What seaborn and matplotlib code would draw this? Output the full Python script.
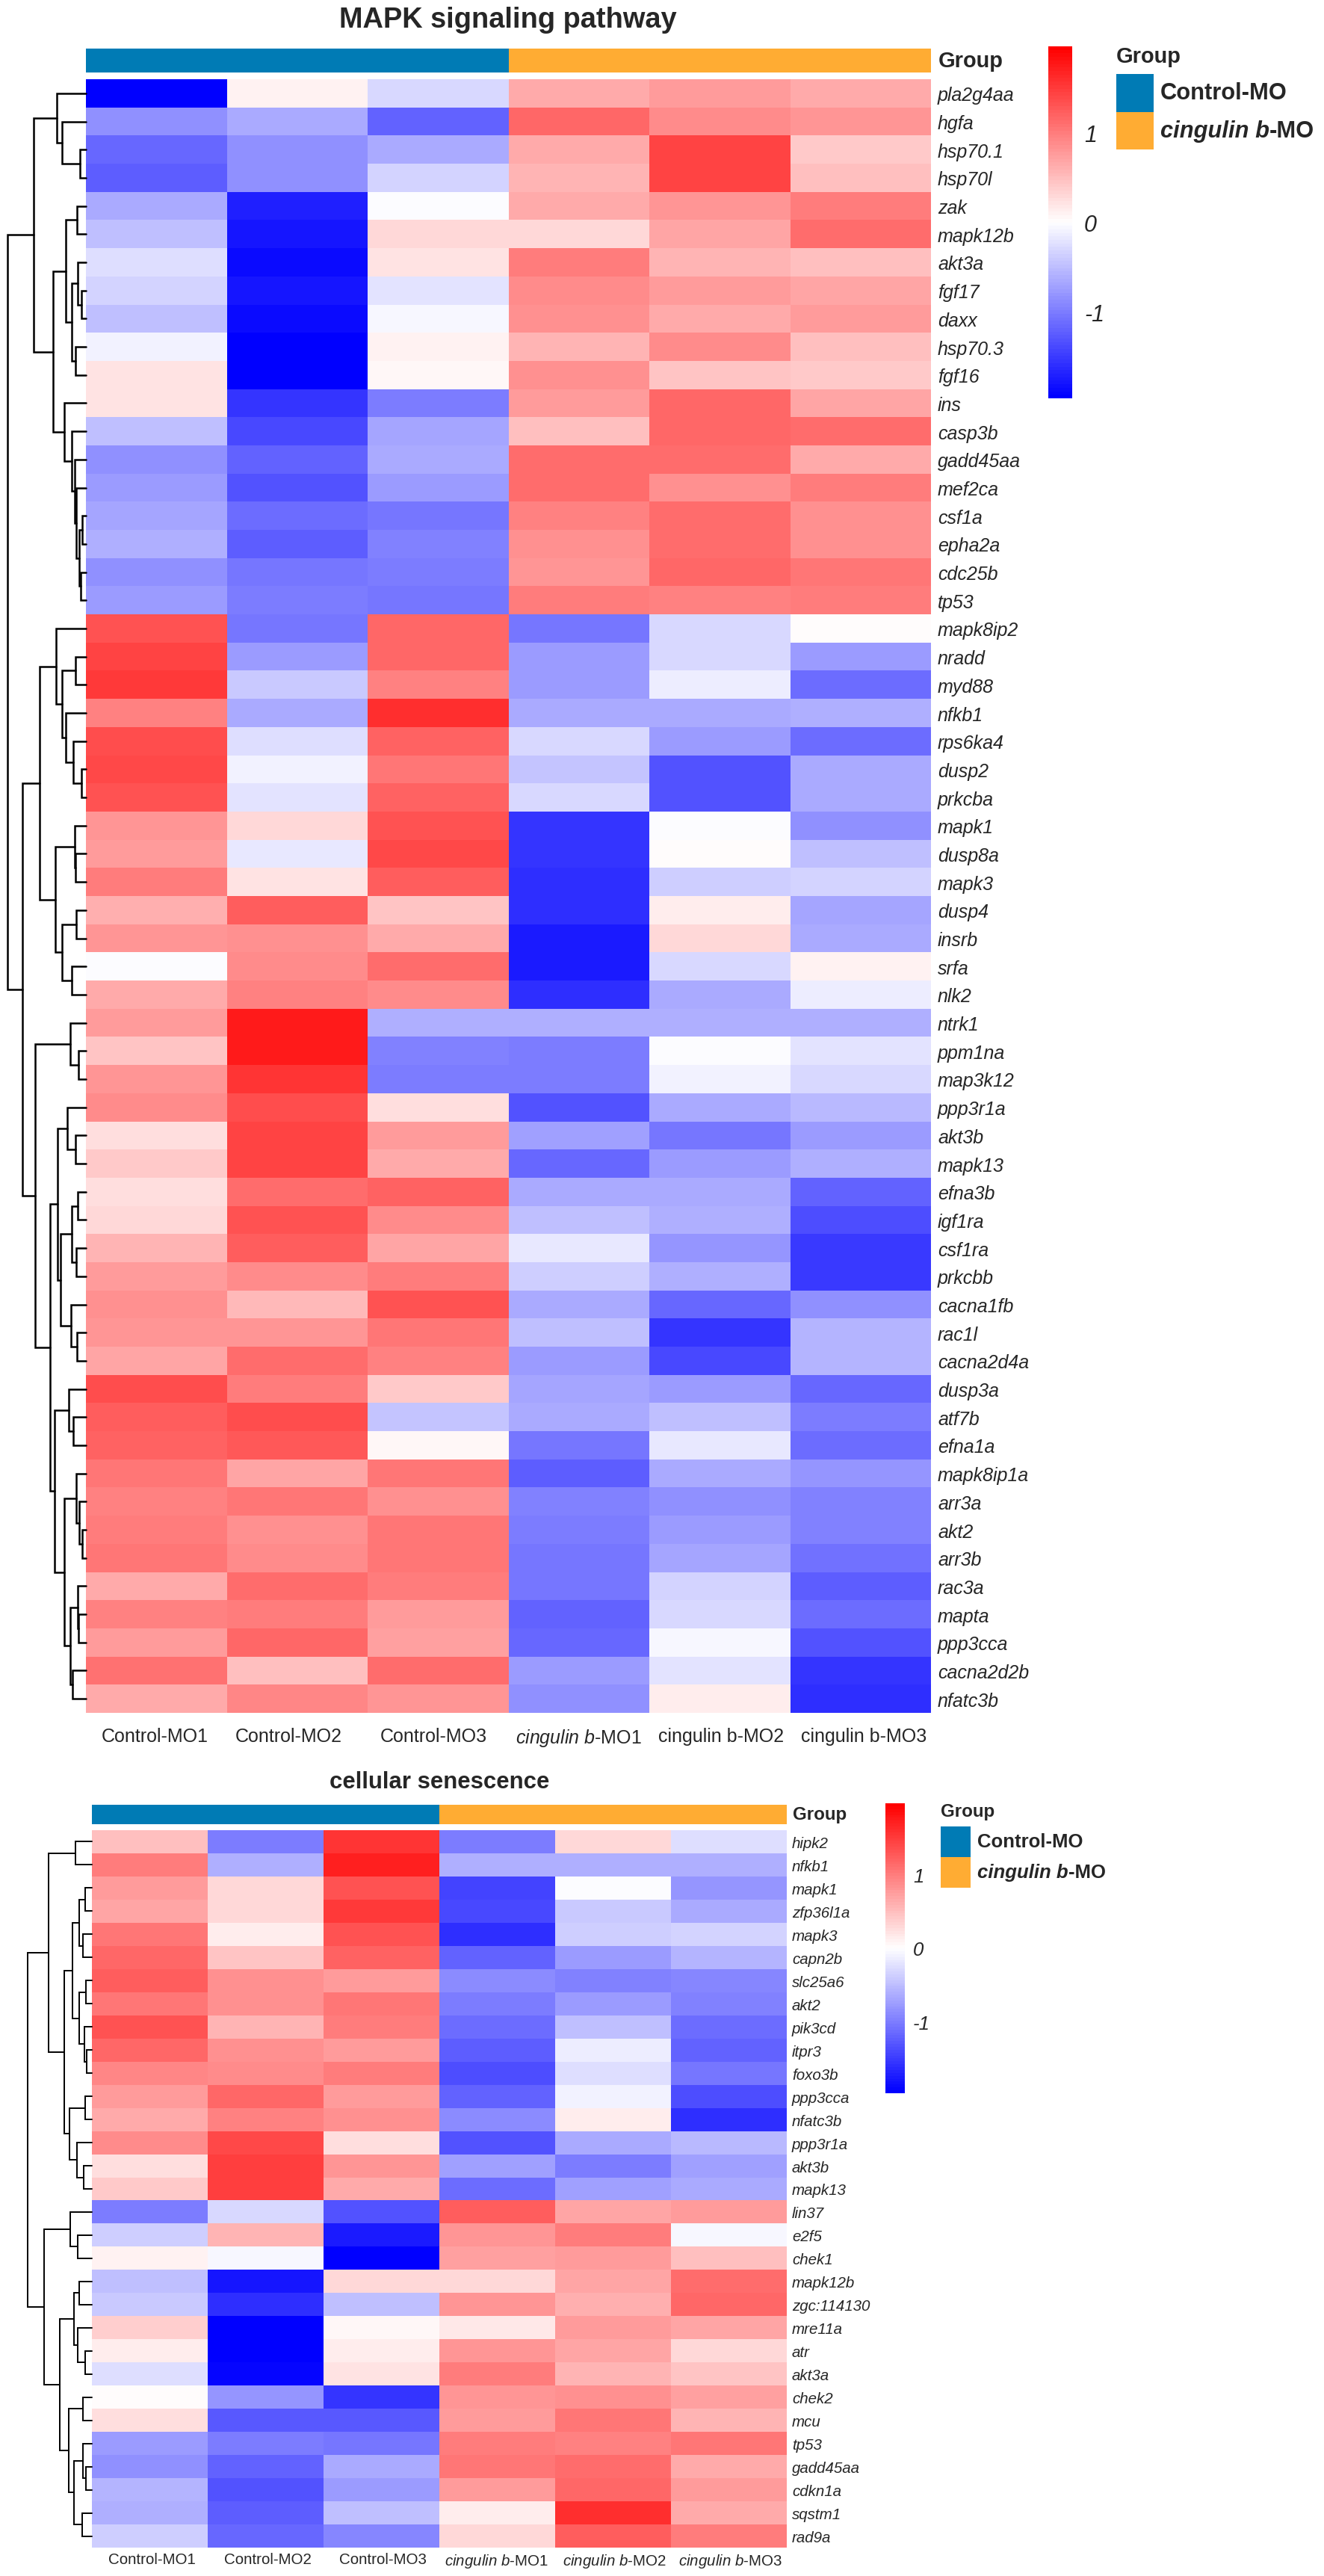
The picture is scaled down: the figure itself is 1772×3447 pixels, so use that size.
import matplotlib
matplotlib.use("Agg")
import matplotlib.pyplot as plt
import numpy as np
import pandas as pd
import seaborn as sns
from matplotlib.colors import LinearSegmentedColormap, ListedColormap
from matplotlib.transforms import ScaledTranslation

# MAPK signaling pathway
mapk_genes = ["pla2g4aa", "hgfa", "hsp70.1", "hsp70l", "zak", "mapk12b", "akt3a", "fgf17", "daxx", "hsp70.3",
              "fgf16", "ins", "casp3b", "gadd45aa", "mef2ca", "csf1a", "epha2a", "cdc25b", "tp53", "mapk8ip2",
              "nradd", "myd88", "nfkb1", "rps6ka4", "dusp2", "prkcba", "mapk1", "dusp8a", "mapk3", "dusp4",
              "insrb", "srfa", "nlk2", "ntrk1", "ppm1na", "map3k12", "ppp3r1a", "akt3b", "mapk13", "efna3b",
              "igf1ra", "csf1ra", "prkcbb", "cacna1fb", "rac1l", "cacna2d4a", "dusp3a", "atf7b", "efna1a",
              "mapk8ip1a", "arr3a", "akt2", "arr3b", "rac3a", "mapta", "ppp3cca", "cacna2d2b", "nfatc3b"]
mapk_control1 = [-1.96, -0.85, -1.15, -1.25, -0.65, -0.5, -0.25, -0.35, -0.5, -0.08, 0.2, 0.2, -0.5, -0.85, -0.75,
                 -0.7, -0.6, -0.85, -0.75, 1.3, 1.45, 1.5, 0.95, 1.35, 1.4, 1.3, 0.8, 0.78, 1.0, 0.6, 0.8, -0.02,
                 0.65, 0.75, 0.45, 0.8, 0.88, 0.25, 0.42, 0.25, 0.3, 0.58, 0.78, 0.85, 0.8, 0.68, 1.35, 1.25, 1.2,
                 1.05, 0.97, 1.0, 1.02, 0.65, 0.97, 0.75, 1.08, 0.65]
mapk_control2 = [0.1, -0.65, -0.85, -0.85, -1.7, -1.8, -1.85, -1.8, -1.85, -1.96, -1.96, -1.55, -1.4, -1.2, -1.3,
                 -1.1, -1.25, -1.05, -1.0, -1.05, -0.75, -0.4, -0.65, -0.25, -0.1, -0.22, 0.3, -0.18, 0.2, 1.25,
                 0.85, 0.9, 0.95, 1.75, 1.75, 1.55, 1.35, 1.45, 1.45, 1.1, 1.3, 1.25, 0.88, 0.52, 0.8, 1.1, 1.0,
                 1.35, 1.28, 0.68, 1.05, 0.85, 0.88, 1.12, 0.98, 1.15, 0.48, 0.92]
mapk_control3 = [-0.3, -1.2, -0.65, -0.35, -0.03, 0.28, 0.2, -0.2, -0.04, 0.1, 0.07, -1.0, -0.7, -0.65, -0.75,
                 -1.05, -0.95, -1.0, -1.05, 1.15, 1.15, 0.95, 1.6, 1.2, 1.05, 1.2, 1.3, 1.4, 1.25, 0.45, 0.65, 1.1,
                 0.88, -0.62, -0.95, -1.0, 0.27, 0.78, 0.65, 1.2, 0.9, 0.7, 1.0, 1.3, 1.05, 0.95, 0.4, -0.45, 0.05,
                 1.05, 0.85, 1.05, 1.05, 0.98, 0.78, 0.72, 1.1, 0.82]
mapk_cingulin1 = [0.65, 1.15, 0.65, 0.55, 0.65, 0.28, 1.0, 0.9, 0.85, 0.55, 0.85, 0.75, 0.5, 1.1, 1.1, 0.95, 0.85,
                  0.8, 1.0, -1.05, -0.75, -0.75, -0.65, -0.3, -0.45, -0.3, -1.55, -1.55, -1.6, -1.6, -1.75, -1.75,
                  -1.6, -0.62, -1.0, -1.0, -1.3, -0.73, -1.15, -0.65, -0.48, -0.18, -0.38, -0.65, -0.5, -0.75,
                  -0.68, -0.65, -1.05, -1.25, -0.98, -1.0, -1.02, -1.03, -1.2, -1.15, -0.75, -0.85]
mapk_cingulin2 = [0.75, 0.9, 1.45, 1.45, 0.8, 0.7, 0.55, 0.75, 0.65, 0.9, 0.45, 1.15, 1.15, 1.1, 0.85, 1.1, 1.1,
                  1.15, 0.95, -0.28, -0.3, -0.13, -0.65, -0.75, -1.3, -1.3, -0.02, 0.01, -0.38, 0.15, 0.28, -0.28,
                  -0.65, -0.62, -0.01, -0.08, -0.65, -1.05, -0.75, -0.65, -0.62, -0.8, -0.62, -1.15, -1.55, -1.4,
                  -0.75, -0.48, -0.16, -0.65, -0.85, -0.78, -0.68, -0.35, -0.28, -0.05, -0.22, 0.13]
mapk_cingulin3 = [0.65, 0.8, 0.4, 0.5, 1.0, 1.1, 0.5, 0.7, 0.75, 0.5, 0.42, 0.7, 1.1, 0.65, 1.0, 0.85, 0.85, 1.05,
                  1.0, 0.02, -0.75, -1.1, -0.6, -1.1, -0.65, -0.65, -0.85, -0.5, -0.35, -0.7, -0.65, 0.08, -0.15,
                  -0.62, -0.22, -0.28, -0.53, -0.75, -0.62, -1.2, -1.35, -1.5, -1.5, -0.85, -0.55, -0.55, -1.15,
                  -1.0, -1.1, -0.82, -0.95, -0.98, -1.08, -1.22, -1.1, -1.3, -1.55, -1.6]

# cellular senescence
sen_genes = ["hipk2", "nfkb1", "mapk1", "zfp36l1a", "mapk3", "capn2b", "slc25a6", "akt2", "pik3cd", "itpr3",
             "foxo3b", "ppp3cca", "nfatc3b", "ppp3r1a", "akt3b", "mapk13", "lin37", "e2f5", "chek1", "mapk12b",
             "zgc:114130", "mre11a", "atr", "akt3a", "chek2", "mcu", "tp53", "gadd45aa", "cdkn1a", "sqstm1", "rad9a"]
sen_control1 = [0.5, 1.0, 0.78, 0.68, 1.05, 1.15, 1.25, 1.03, 1.3, 1.15, 0.92, 0.78, 0.65, 0.9, 0.27, 0.42, -1.0,
                -0.38, 0.08, -0.48, -0.4, 0.38, 0.13, -0.24, 0.01, 0.25, -0.75, -0.85, -0.58, -0.6, -0.38]
sen_control2 = [-1.0, -0.62, 0.3, 0.3, 0.15, 0.45, 0.85, 0.85, 0.58, 0.85, 0.88, 1.15, 0.97, 1.4, 1.48, 1.48, -0.3,
                0.58, -0.06, -1.78, -1.6, -1.96, -1.96, -1.92, -0.8, -1.28, -1.0, -1.2, -1.3, -1.25, -1.15]
sen_control3 = [1.55, 1.7, 1.3, 1.5, 1.3, 1.2, 0.75, 1.05, 1.0, 0.75, 1.0, 0.75, 0.85, 0.27, 0.8, 0.63, -1.3, -1.75,
                -1.96, 0.28, -0.5, 0.07, 0.14, 0.2, -1.55, -1.28, -1.02, -0.63, -0.75, -0.5, -0.92]
sen_cingulin1 = [-1.0, -0.6, -1.45, -1.4, -1.6, -1.2, -0.88, -1.0, -1.1, -1.25, -1.35, -1.2, -0.88, -1.3, -0.72,
                 -1.12, 1.25, 0.8, 0.72, 0.28, 0.8, 0.18, 0.82, 1.0, 0.82, 0.78, 1.0, 1.03, 0.78, 0.13, 0.28]
sen_cingulin2 = [0.28, -0.6, -0.02, -0.4, -0.38, -0.75, -0.95, -0.75, -0.48, -0.15, -0.25, -0.08, 0.13, -0.65, -1.0,
                 -0.72, 0.68, 1.0, 0.78, 0.68, 0.62, 0.75, 0.7, 0.55, 0.85, 1.02, 0.95, 1.1, 1.17, 1.6, 1.25]
sen_cingulin3 = [-0.25, -0.62, -0.82, -0.65, -0.33, -0.55, -0.92, -0.95, -1.1, -1.2, -1.05, -1.35, -1.6, -0.52,
                 -0.72, -0.65, 0.75, -0.06, 0.5, 1.1, 1.15, 0.68, 0.3, 0.45, 0.72, 0.58, 1.02, 0.65, 0.78, 0.65, 1.0]

# row trees: (merge distance, upper branch, lower branch), leaves are row numbers
mapk_tree = (105,
    (70,
        (39, 0, (32, 1, (8, 2, 3))),
        (44,
            (27, (12, 4, 5), (19, (11, 6, (6, 7, 8)), (14, 9, 10))),
            (29, 11, (19, 12, (15, 13, (13, 14, (9, (5, 15, 16), (7, 17, 18)))))))),
    (85,
        (62,
            (40, 19, (32, (14, 20, 21), (27, 22, (17, 23, (6, 24, 25))))),
            (41, (15, 26, (14, 27, 28)), (32, (13, 29, 30), (19, 31, 32)))),
        (68,
            (21, 33, (10, 34, 35)),
            (48,
                (38,
                    (25, 36, (14, 37, 38)),
                    (34, (19, (11, 39, 40), (13, 41, 42)), (20, 43, (12, 44, 45)))),
                (42,
                    (23, 46, (17, 47, 48)),
                    (29,
                        (13, 49, (9, 50, (5, 51, 52))),
                        (21, (11, 53, (10, 54, 55)), (18, 56, 57))))))))

sen_tree = (86,
    (58,
        (22, 0, 1),
        (37,
            (26,
                (17, (9, 2, 3), (12, 4, 5)),
                (17, (8, 6, 7), (10, 8, (7, 9, 10)))),
            (30, (9, 11, 12), (20, 13, (11, 14, 15))))),
    (64,
        (29, 16, (19, 17, 18)),
        (43,
            (24, (17, 19, 20), (19, 21, (9, 22, 23))),
            (31, (12, 24, 25), (24, (12, 26, (8, 27, 28)), (13, 29, 30))))))

sample_top = ["Control-MO1", "Control-MO2", "Control-MO3", r"$\mathit{cingulin\ b}$-MO1", "cingulin b-MO2", "cingulin b-MO3"]
sample_bottom = ["Control-MO1", "Control-MO2", "Control-MO3", r"$\mathit{cingulin\ b}$-MO1",
                 r"$\mathit{cingulin\ b}$-MO2", r"$\mathit{cingulin\ b}$-MO3"]
sample_groups = [0, 0, 0, 1, 1, 1]
legend_groups = [0, 1]
group_colors = ["#007BB5", "#FFAC33"]
cbar_ticks = [-1, 0, 1]

W, H = 1772, 3448
DPI = 100

sns.set_theme(style="white")
plt.rcParams["font.family"] = ["Liberation Sans", "DejaVu Sans"]
plt.rcParams["mathtext.fontset"] = "custom"
plt.rcParams["mathtext.rm"] = "Liberation Sans"
plt.rcParams["mathtext.it"] = "Liberation Sans:italic"

heat_cmap = LinearSegmentedColormap.from_list("bwr_pheatmap", ["#0000FF", "#FFFFFF", "#FF0000"], N=100)
group_cmap = ListedColormap(group_colors)

fig = plt.figure(figsize=(W / DPI, H / DPI), dpi=DPI, facecolor="white")


def add_ax(left, top, right, bottom):
    ax = fig.add_axes([left / W, 1 - bottom / H, (right - left) / W, (bottom - top) / H])
    ax.set_facecolor("none")
    return ax


def pt(pixels):
    return pixels * 72 / DPI


def draw_tree(ax, node, lw):
    # returns (distance, row position) of the node
    if not isinstance(node, tuple):
        return 0, node + 0.5
    d, upper, lower = node
    d1, y1 = draw_tree(ax, upper, lw)
    d2, y2 = draw_tree(ax, lower, lw)
    ax.plot([d1, d, d, d2], [y1, y1, y2, y2], color="black", lw=lw, solid_joinstyle="miter", clip_on=False)
    return d, (y1 + y2) / 2


def draw_panel(genes, columns, samples, tree, title, g):
    data = pd.DataFrame(dict(zip(range(6), columns)), index=genes)
    left, right = g["x0"], g["x1"]

    # top annotation strip
    strip_ax = add_ax(left, g["strip"][0], right, g["strip"][1])
    sns.heatmap(pd.DataFrame([sample_groups]), ax=strip_ax, cmap=group_cmap, vmin=0, vmax=1, cbar=False,
                xticklabels=False, yticklabels=False)
    fig.text((right + g["group_pad"]) / W, 1 - sum(g["strip"]) / 2 / H, "Group", fontsize=g["group_fs"],
             fontweight="bold", va="center", ha="left")

    # main heatmap
    ax = add_ax(left, g["heat"][0], right, g["heat"][1])
    cbar_ax = add_ax(*g["cbar"])
    sns.heatmap(data, ax=ax, cmap=heat_cmap, vmin=-1.96, vmax=1.96, cbar_ax=cbar_ax,
                cbar_kws={"ticks": cbar_ticks}, xticklabels=samples, yticklabels=genes)
    ax.yaxis.tick_right()
    ax.tick_params(axis="y", length=0, pad=pt(g["gene_pad"]), labelsize=g["label_fs"], labelrotation=0)
    ax.tick_params(axis="x", length=0, pad=pt(g["sample_pad"]), labelsize=g["label_fs"], labelrotation=0)
    for lab in ax.get_yticklabels():
        lab.set_fontstyle("italic")
    for lab, shift in zip(ax.get_xticklabels(), g["sample_shift"]):
        lab.set_transform(lab.get_transform() + ScaledTranslation(shift / DPI, 0, fig.dpi_scale_trans))

    # colorbar
    cbar_ax.tick_params(length=0, pad=pt(g["cbar_pad"]), labelsize=g["cbar_fs"])
    cbar_ax.set_yticklabels([str(t) for t in cbar_ticks], fontstyle="italic")

    # row dendrogram
    tree_ax = add_ax(0, g["heat"][0], left, g["heat"][1])
    draw_tree(tree_ax, tree, g["tree_lw"])
    tree_ax.set_xlim(left, 0)
    tree_ax.set_ylim(len(genes), 0)
    tree_ax.axis("off")

    fig.text(g["title_xy"][0] / W, 1 - g["title_xy"][1] / H, title, fontsize=g["title_fs"], fontweight="bold",
             ha="center", va="center")

    # group legend
    lx0, lx1, ly0, ly1 = g["legend"]
    fig.text(lx0 / W, 1 - g["legend_title_y"] / H, "Group", fontsize=g["group_fs"], fontweight="bold",
             ha="left", va="center")
    leg_ax = add_ax(lx0, ly0, lx1, ly1)
    sns.heatmap(pd.DataFrame({"g": legend_groups}), ax=leg_ax, cmap=group_cmap, vmin=0, vmax=1, cbar=False,
                xticklabels=False, yticklabels=False)
    row_h = (ly1 - ly0) / 2
    tx = (lx1 + g["legend_pad"]) / W
    fig.text(tx, 1 - (ly0 + row_h * 0.5) / H, "Control-MO", fontsize=g["legend_fs"], fontweight="bold", va="center")
    first = fig.text(tx, 1 - (ly0 + row_h * 1.5) / H, "cingulin b", fontsize=g["legend_fs"], fontweight="bold",
                     fontstyle="italic", va="center")
    leg_ax.annotate("-MO", xy=(1, 0.5), xycoords=first, va="center", ha="left", fontsize=g["legend_fs"],
                    fontweight="bold", annotation_clip=False)


mapk_layout = dict(x0=115, x1=1246, strip=(66, 98), heat=(107, 2293), cbar=(1403, 63, 1435, 534),
                   group_pad=10, group_fs=20.9, gene_pad=9, label_fs=18, sample_pad=19,
                   sample_shift=[-2, -11, -6, 0, 2, 4], cbar_pad=16, cbar_fs=22, tree_lw=1.8,
                   title_xy=(680, 27), title_fs=27.4, legend=(1494, 1544, 100, 201), legend_title_y=76,
                   legend_pad=9, legend_fs=22.2)
sen_layout = dict(x0=123, x1=1053, strip=(2416, 2442), heat=(2450, 3410), cbar=(1185, 2414, 1211, 2802),
                  group_pad=8, group_fs=17.4, gene_pad=7, label_fs=14.8, sample_pad=6,
                  sample_shift=[3, 3, 2, -1, 2, 2], cbar_pad=11, cbar_fs=18.5, tree_lw=1.4,
                  title_xy=(588, 2385), title_fs=22.4, legend=(1259, 1299, 2445, 2527), legend_title_y=2424,
                  legend_pad=9, legend_fs=18.5)

draw_panel(mapk_genes, [mapk_control1, mapk_control2, mapk_control3, mapk_cingulin1, mapk_cingulin2, mapk_cingulin3],
           sample_top, mapk_tree, "MAPK signaling pathway", mapk_layout)
draw_panel(sen_genes, [sen_control1, sen_control2, sen_control3, sen_cingulin1, sen_cingulin2, sen_cingulin3],
           sample_bottom, sen_tree, "cellular senescence", sen_layout)

fig.savefig("out.png", dpi=DPI, facecolor="white")
